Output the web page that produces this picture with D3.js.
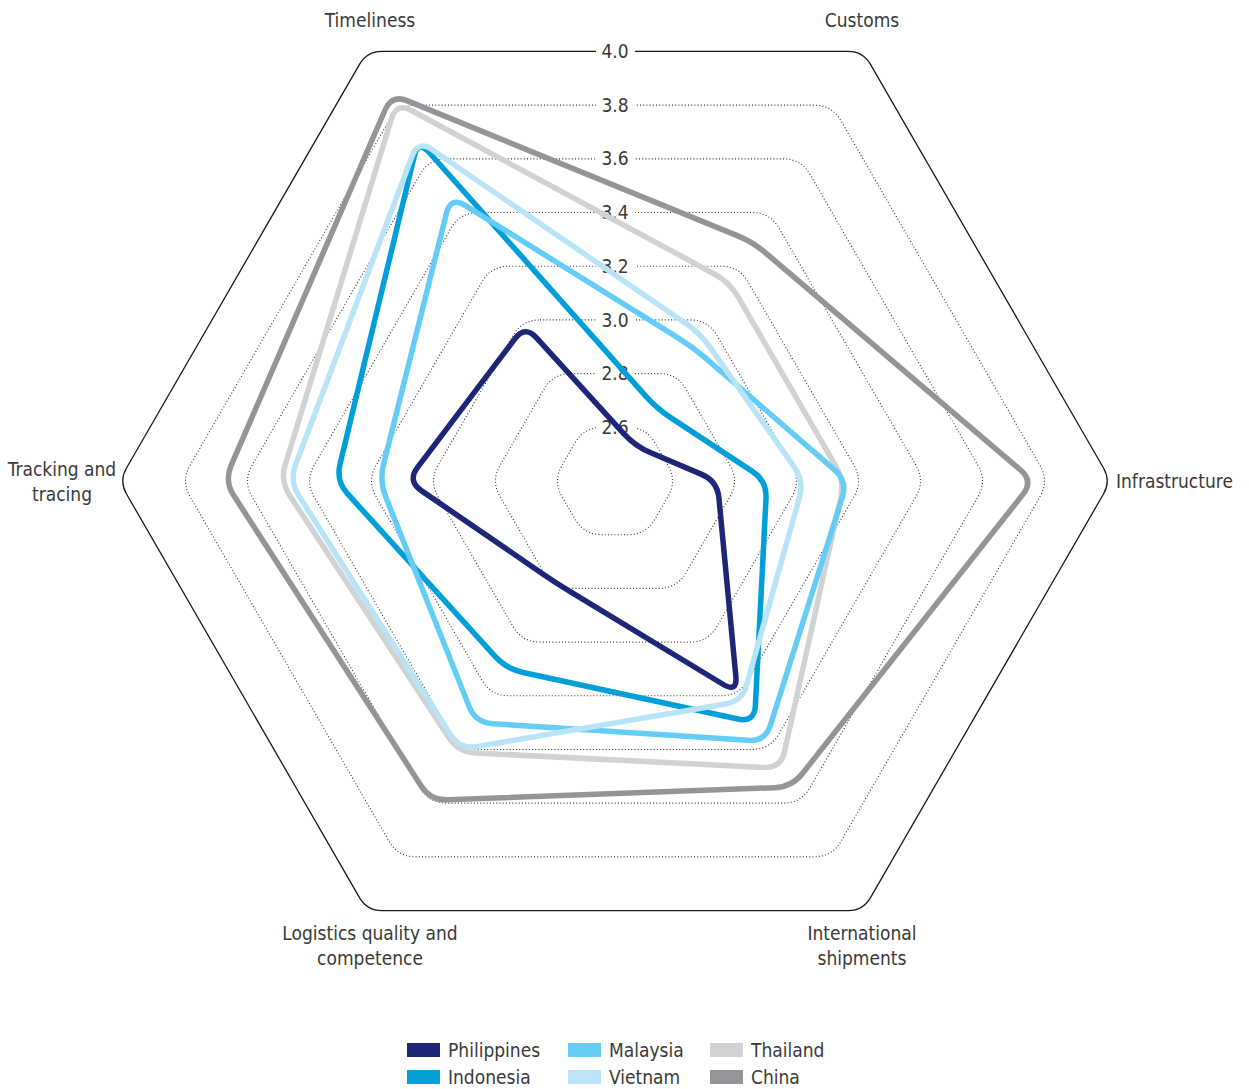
<!DOCTYPE html>
<html>
<head>
<meta charset="utf-8">
<script src="https://cdnjs.cloudflare.com/ajax/libs/d3/7.8.5/d3.min.js"></script>
<style>
  body { margin: 0; background: #fff; }
  svg text { font-family: "Liberation Sans Narrow", "DejaVu Sans Condensed", "Roboto", sans-serif; fill: #3a3a3a; }
</style>
</head>
<body>
<script>
  // axes go clockwise, starting at the upper-left corner
  var axes = ["Timeliness", "Customs", "Infrastructure", "International shipments",
              "Logistics quality and competence", "Tracking and tracing"];

  var countries = ["Philippines", "Indonesia", "Malaysia", "Vietnam", "Thailand", "China"];

  // scores, same order as axes
  var philippines = [2.98, 2.53, 2.73, 3.19, 2.78, 3.07];
  var indonesia   = [3.67, 2.67, 2.89, 3.30, 3.10, 3.30];
  var malaysia    = [3.46, 2.90, 3.15, 3.37, 3.30, 3.16];
  var vietnam     = [3.67, 2.95, 3.01, 3.22, 3.40, 3.45];
  var thailand    = [3.81, 3.14, 3.14, 3.47, 3.41, 3.48];
  var china       = [3.84, 3.29, 3.75, 3.54, 3.59, 3.66];

  var ticks = [2.6, 2.8, 3.0, 3.2, 3.4, 3.6, 3.8, 4.0];
  var tickLabels = ["2.6", "2.8", "3.0", "3.2", "3.4", "3.6", "3.8", "4.0"];

  var colors = ["#1d2677", "#009fda", "#65cdf5", "#b9e4f8", "#d1d2d4", "#939598"];

  var series = [philippines, indonesia, malaysia, vietnam, thailand, china];

  var width = 1249,
      height = 1089,
      cx = 615,
      cy = 481;

  var r = d3.scaleLinear()
    .domain([2.4, 4.0])
    .range([0, 496]);

  function angle(i) {
    return (120 - 60 * i) * Math.PI / 180;
  }

  function point(v, i) {
    return [cx + r(v) * Math.cos(angle(i)), cy - r(v) * Math.sin(angle(i))];
  }

  // closed polygon with the corners cut round
  function roundPath(pts, cut) {
    var n = pts.length, a = [], b = [];
    for (var i = 0; i < n; i++) {
      var p = pts[i], prev = pts[(i - 1 + n) % n], next = pts[(i + 1) % n];
      var l1 = Math.hypot(prev[0] - p[0], prev[1] - p[1]);
      var l2 = Math.hypot(next[0] - p[0], next[1] - p[1]);
      var t1 = Math.min(cut / l1, 0.45), t2 = Math.min(cut / l2, 0.45);
      a.push([p[0] + (prev[0] - p[0]) * t1, p[1] + (prev[1] - p[1]) * t1]);
      b.push([p[0] + (next[0] - p[0]) * t2, p[1] + (next[1] - p[1]) * t2]);
    }
    var path = d3.path();
    path.moveTo(b[0][0], b[0][1]);
    for (var j = 1; j <= n; j++) {
      var k = j % n;
      path.lineTo(a[k][0], a[k][1]);
      path.quadraticCurveTo(pts[k][0], pts[k][1], b[k][0], b[k][1]);
    }
    path.closePath();
    return path.toString();
  }

  var svg = d3.select("body").append("svg")
    .attr("width", width)
    .attr("height", height);

  // grid hexagons
  svg.selectAll(".grid")
    .data(ticks)
    .enter().append("path")
    .attr("class", "grid")
    .attr("d", function(t) {
      return roundPath(axes.map(function(a, i) { return point(t, i); }), t == 4.0 ? 15 : 18);
    })
    .attr("fill", "none")
    .attr("stroke", function(t) { return t == 4.0 ? "#1a1a1a" : "#333"; })
    .attr("stroke-width", function(t) { return t == 4.0 ? 1.3 : 1.1; })
    .attr("stroke-dasharray", function(t) { return t == 4.0 ? null : "1,2.2"; });

  // tick labels sit on the top edge, with a gap in the line
  var tickG = svg.selectAll(".tick")
    .data(ticks)
    .enter().append("g")
    .attr("class", "tick")
    .attr("transform", function(t) {
      return "translate(" + cx + "," + (cy - r(t) * Math.sin(Math.PI / 3)) + ")";
    });

  tickG.append("rect")
    .attr("x", -19).attr("y", -9)
    .attr("width", 39).attr("height", 18)
    .attr("fill", "#fff");

  tickG.append("text")
    .attr("text-anchor", "middle")
    .attr("dy", "0.35em")
    .style("font-size", "19px")
    .text(function(t, i) { return tickLabels[i]; });

  // country lines, China at the back
  var order = [5, 4, 0, 1, 2, 3];
  svg.selectAll(".country")
    .data(order)
    .enter().append("path")
    .attr("class", "country")
    .attr("d", function(s) {
      return roundPath(series[s].map(function(v, i) { return point(v, i); }), 17);
    })
    .attr("fill", "none")
    .attr("stroke", function(s) { return colors[s]; })
    .attr("stroke-width", 5.5)
    .attr("stroke-linejoin", "round");

  // axis names
  var labelPos = [
    {x: 370, y: 20, anchor: "middle", lines: ["Timeliness"]},
    {x: 862, y: 20, anchor: "middle", lines: ["Customs"]},
    {x: 1116, y: 481, anchor: "start", lines: ["Infrastructure"]},
    {x: 862, y: 933, anchor: "middle", lines: ["International", "shipments"]},
    {x: 370, y: 933, anchor: "middle", lines: ["Logistics quality and", "competence"]},
    {x: 62, y: 469, anchor: "middle", lines: ["Tracking and", "tracing"]}
  ];

  labelPos.forEach(function(d) {
    var t = svg.append("text")
      .attr("text-anchor", d.anchor)
      .style("font-size", "19px");
    d.lines.forEach(function(line, k) {
      t.append("tspan")
        .attr("x", d.x)
        .attr("y", d.y + k * 25)
        .attr("dy", "0.35em")
        .text(line);
    });
  });

  // legend, 3 columns x 2 rows
  var legendX = [407, 568, 710];
  var legend = svg.selectAll(".legend")
    .data(countries)
    .enter().append("g")
    .attr("class", "legend")
    .attr("transform", function(d, i) {
      var col = Math.floor(i / 2), row = i % 2;
      return "translate(" + legendX[col] + "," + (1050 + row * 27) + ")";
    });

  legend.append("rect")
    .attr("x", 0).attr("y", -7)
    .attr("width", 33).attr("height", 14)
    .attr("fill", function(d, i) { return colors[i]; });

  legend.append("text")
    .attr("x", 41)
    .attr("dy", "0.35em")
    .style("font-size", "19px")
    .text(function(d) { return d; });
</script>
</body>
</html>
